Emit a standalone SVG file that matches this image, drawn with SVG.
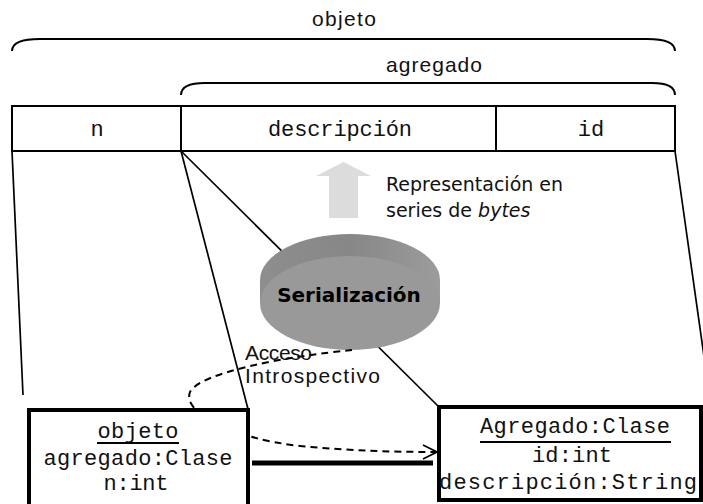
<svg xmlns="http://www.w3.org/2000/svg" width="703" height="504" viewBox="0 0 703 504">
<style>
.ln{stroke:#000;stroke-width:2;fill:none}
.thin{stroke:#000;stroke-width:1.7;fill:none}
.box{stroke:#000;stroke-width:4;fill:#fff}
.mono{font-family:"Liberation Mono","Courier New",monospace;font-size:22px;fill:#111;text-anchor:middle}
.lbl{font-family:"Liberation Sans",Arial,sans-serif;font-size:21px;fill:#111}
.ver{font-family:"DejaVu Sans",Verdana,sans-serif;font-size:19px;fill:#111}
</style>
<defs>
<linearGradient id="band" x1="0" y1="0" x2="1" y2="0">
<stop offset="0" stop-color="#8e8e8e"/>
<stop offset="0.5" stop-color="#878787"/>
<stop offset="1" stop-color="#9c9c9c"/>
</linearGradient>
<marker id="open" markerWidth="18" markerHeight="18" refX="15" refY="8" orient="auto" markerUnits="userSpaceOnUse">
<path d="M1 1 L15 8 L1 15" fill="none" stroke="#000" stroke-width="1.8"/>
</marker>
</defs>
<rect width="703" height="504" fill="#fff"/>

<g id="braces">
<path class="ln" d="M12 51 C12 43 22 39 40 39 L647 39 C665 39 675 43 675 51"/>
<text class="lbl" x="344" y="26" text-anchor="middle" textLength="64">objeto</text>
<path class="ln" d="M181 95 C181 87 190 83 205 83 L652 83 C667 83 675 87 675 95"/>
<text class="lbl" x="434" y="72" text-anchor="middle" textLength="96">agregado</text>
</g>

<g id="table">
<rect class="ln" x="12" y="106" width="663" height="45"/>
<line class="ln" x1="181" y1="106" x2="181" y2="151"/>
<line class="ln" x1="496" y1="106" x2="496" y2="151"/>
<text class="mono" x="97" y="136">n</text>
<text class="mono" x="340" y="136" textLength="144">descripción</text>
<text class="mono" x="591" y="136">id</text>
</g>

<g id="connectors">
<line class="thin" x1="12" y1="151" x2="23" y2="395"/>
<line class="thin" x1="181" y1="151" x2="248" y2="409"/>
<line class="thin" x1="181" y1="151" x2="439" y2="407"/>
<line class="thin" x1="675" y1="151" x2="711" y2="406"/>
<line x1="252" y1="463" x2="433" y2="463" stroke="#000" stroke-width="5"/>
</g>

<g id="representacion">
<polygon points="316,176 343.5,162 371,176 358,176 358,218 329,218 329,176" fill="#dcdcdc"/>
<text class="ver" x="386" y="191">Representación en</text>
<text class="ver" x="386" y="217">series de <tspan font-style="italic">bytes</tspan></text>
</g>

<g id="serializacion">
<path d="M260 280 A90 46 0 0 1 440 280 L440 303 L260 303 Z" fill="url(#band)"/>
<ellipse cx="350" cy="303" rx="90" ry="47" fill="#999"/>
<text x="349" y="302" text-anchor="middle" font-family="'DejaVu Sans',Verdana,sans-serif" font-weight="bold" font-size="20" fill="#000">Serialización</text>
</g>

<g id="acceso">
<path d="M352 350 C290 356 200 372 190 392 C182 412 230 438 300 446 C350 451 400 452 437 452" fill="none" stroke="#000" stroke-width="2" stroke-dasharray="7 5" marker-end="url(#open)"/>
<text class="lbl" x="245" y="360" textLength="67">Acceso</text>
<text class="lbl" x="245" y="383" textLength="135">Introspectivo</text>
</g>

<g id="objeto">
<rect class="box" x="29" y="410" width="219" height="110"/>
<text class="mono" x="138" y="438" textLength="81">objeto</text>
<line x1="97" y1="443" x2="179" y2="443" stroke="#000" stroke-width="2"/>
<text class="mono" x="138" y="465" textLength="189">agregado:Clase</text>
<text class="mono" x="136" y="490" textLength="65">n:int</text>
</g>

<g id="agregado">
<rect class="box" x="439" y="407" width="262" height="93"/>
<text class="mono" x="575" y="433" textLength="190">Agregado:Clase</text>
<line x1="480" y1="442" x2="671" y2="442" stroke="#000" stroke-width="2"/>
<text class="mono" x="572" y="462" textLength="80">id:int</text>
<text class="mono" x="568" y="489" textLength="258">descripción:String</text>
</g>
</svg>
